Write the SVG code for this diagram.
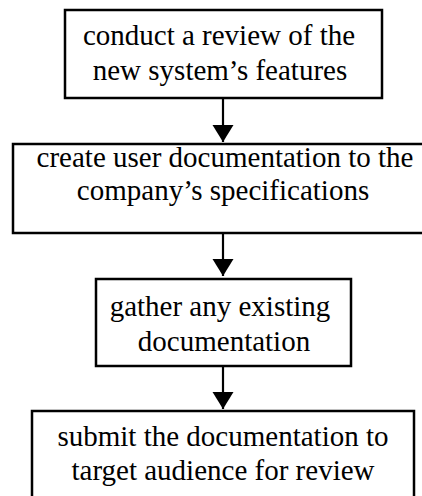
<svg xmlns="http://www.w3.org/2000/svg" width="422" height="496" viewBox="0 0 422 496">
  <style>
    .box { fill: #ffffff; stroke: #000000; stroke-width: 2.5; }
    .lbl { font-family: "Liberation Serif", "Times New Roman", serif; font-size: 29px; fill: #000000; text-anchor: middle; }
    .edge { stroke: #000000; stroke-width: 2.2; fill: none; }
  </style>
  <defs>
    <marker id="arrow" markerUnits="userSpaceOnUse" markerWidth="18" markerHeight="22" refX="17" refY="10.5" orient="auto">
      <path d="M0,0 L17,10.5 L0,21 Z" fill="#000000"/>
    </marker>
  </defs>
  <rect width="422" height="496" fill="#ffffff"/>
  <g id="connectors">
    <line class="edge" x1="223" y1="98" x2="223" y2="142" marker-end="url(#arrow)"/>
    <line class="edge" x1="223" y1="233" x2="223" y2="276" marker-end="url(#arrow)"/>
    <line class="edge" x1="223" y1="366" x2="223" y2="409" marker-end="url(#arrow)"/>
  </g>
  <g id="node1">
    <rect class="box" x="65" y="10" width="317" height="88"/>
    <text class="lbl" x="219" y="45">conduct a review of the</text>
    <text class="lbl" x="220" y="80">new system’s features</text>
  </g>
  <g id="node2">
    <rect class="box" x="13" y="144" width="420" height="89"/>
    <text class="lbl" x="225" y="167">create user documentation to the</text>
    <text class="lbl" x="223" y="200">company’s specifications</text>
  </g>
  <g id="node3">
    <rect class="box" x="96" y="279" width="255" height="87"/>
    <text class="lbl" x="220" y="316">gather any existing</text>
    <text class="lbl" x="224" y="351">documentation</text>
  </g>
  <g id="node4">
    <rect class="box" x="32" y="411" width="382" height="100"/>
    <text class="lbl" x="223" y="446">submit the documentation to</text>
    <text class="lbl" x="223" y="480">target audience for review</text>
  </g>
</svg>
